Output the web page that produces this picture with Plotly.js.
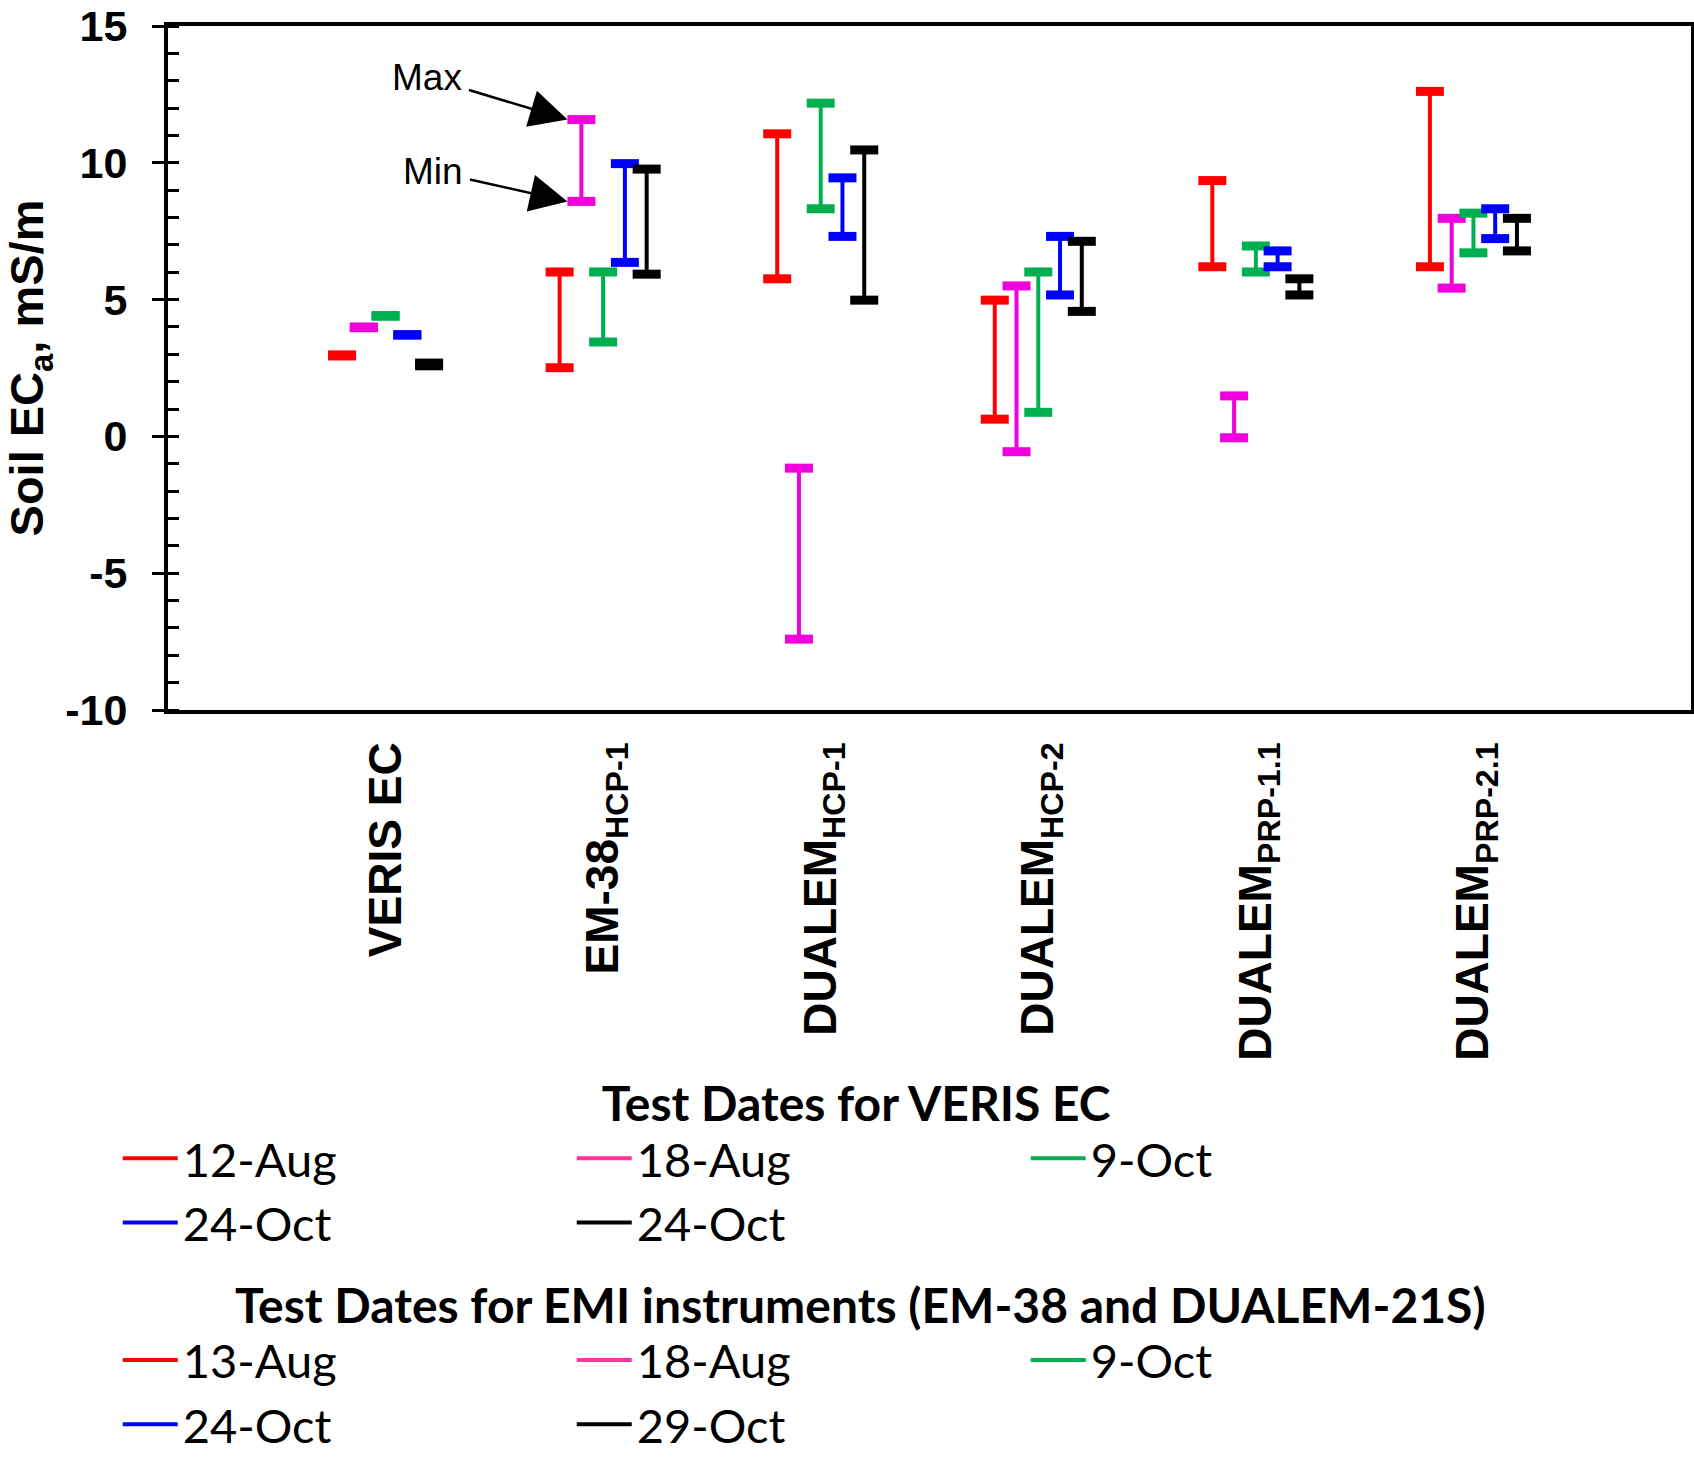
<!DOCTYPE html>
<html>
<head>
<meta charset="utf-8">
<script src="https://cdn.plot.ly/plotly-3.0.1.min.js"></script>
<style>
  html, body { margin: 0; padding: 0; background: #fff; }
  #chart { width: 1694px; height: 1457px; }
</style>
</head>
<body>
<div id="chart"></div>
<script>
// ---------------- data ----------------
const categories = [
  'VERIS EC',
  'EM-38<sub>HCP-1</sub>',
  'DUALEM<sub>HCP-1</sub>',
  'DUALEM<sub>HCP-2</sub>',
  'DUALEM<sub>PRP-1.1</sub>',
  'DUALEM<sub>PRP-2.1</sub>'
];
const verisDates = ['12-Aug', '18-Aug', '9-Oct', '24-Oct', '24-Oct'];
const emiDates   = ['13-Aug', '18-Aug', '9-Oct', '24-Oct', '29-Oct'];
const yTickVals  = [-10, -5, 0, 5, 10, 15];
const yTickText  = ['-10', '-5', '0', '5', '10', '15'];

// min / max per series, one value per category (VERIS EC first)
const redMin     = [2.94, 2.51, 5.76, 0.63, 6.20, 6.20];
const redMax     = [2.98, 6.01, 11.06, 4.98, 9.35, 12.61];
const magentaMin = [3.97, 8.59, -7.41, -0.56, -0.05, 5.42];
const magentaMax = [4.00, 11.58, -1.16, 5.50, 1.48, 7.97];
const greenMin   = [4.39, 3.45, 8.32, 0.88, 6.01, 6.71];
const greenMax   = [4.42, 6.01, 12.18, 6.01, 6.96, 8.16];
const blueMin    = [3.70, 6.36, 7.31, 5.17, 6.20, 7.23];
const blueMax    = [3.72, 9.97, 9.45, 7.31, 6.78, 8.32];
const blackMin   = [2.58, 5.93, 4.98, 4.57, 5.17, 6.78];
const blackMax   = [2.68, 9.77, 10.47, 7.13, 5.76, 7.97];

// ---------------- styling ----------------
const seriesMin = [redMin, magentaMin, greenMin, blueMin, blackMin];
const seriesMax = [redMax, magentaMax, greenMax, blueMax, blackMax];
const markColors   = ['#FF0000', '#F000DC', '#00B050', '#0000FF', '#000000'];
const legendColors = ['#FF0000', '#FF3399', '#00B050', '#0000FF', '#000000'];
const offsets = [-0.2, -0.1, 0, 0.1, 0.2];

const AX_FONT = 'Arial, "Liberation Sans", sans-serif';
const LEG_FONT = 'Lato, "Open Sans", sans-serif';
const PAD = '\u00A0'.repeat(10);

const traces = [];
function addGroup(catIdx, s, dateName, legendId) {
  const xs = [], ys = [], cx = [], cy = [];
  catIdx.forEach(i => {
    const x = i + 1 + offsets[s];
    xs.push(x, x, null);
    ys.push(seriesMin[s][i], seriesMax[s][i], null);
    cx.push(x, x);
    cy.push(seriesMin[s][i], seriesMax[s][i]);
  });
  traces.push({
    type: 'scatter', mode: 'lines', x: xs, y: ys,
    line: { color: markColors[s], width: 4 },
    showlegend: false, hoverinfo: 'skip'
  });
  traces.push({
    type: 'scatter', mode: 'markers', x: cx, y: cy,
    marker: { symbol: 'line-ew', size: 20, color: markColors[s],
              line: { color: markColors[s], width: 9 } },
    showlegend: false
  });
  traces.push({
    type: 'scatter', mode: 'lines', x: [null], y: [null],
    name: dateName, legend: legendId,
    line: { color: legendColors[s], width: 4 },
    showlegend: true
  });
}
for (let s = 0; s < 5; s++) addGroup([0], s, verisDates[s], 'legend');
for (let s = 0; s < 5; s++) addGroup([1, 2, 3, 4, 5], s, emiDates[s], 'legend2');

const legendCommon = {
  orientation: 'h', xanchor: 'left', yanchor: 'top',
  x: -0.033,
  entrywidth: 384, entrywidthmode: 'pixels',
  bgcolor: 'rgba(0,0,0,0)', borderwidth: 0,
  font: { family: LEG_FONT, size: 47, color: '#000' },
  itemwidth: 55, tracegroupgap: 0
};

const layout = {
  width: 1694, height: 1457,
  margin: { l: 168, r: 3, t: 26, b: 747, autoexpand: false },
  paper_bgcolor: '#fff', plot_bgcolor: '#fff',
  showlegend: true,
  xaxis: {
    range: [0, 7], tickmode: 'array',
    tickvals: [1, 2, 3, 4, 5, 6], ticktext: categories,
    tickangle: -90, ticks: '', showgrid: false, zeroline: false,
    showline: true, linecolor: '#000', linewidth: 4, mirror: true,
    tickfont: { family: AX_FONT, size: 46, color: '#000', weight: 'bold' },
    ticklabelstandoff: 10
  },
  yaxis: {
    range: [-10, 15.0001], tickmode: 'array', tickvals: yTickVals, ticktext: yTickText,
    ticklabeloverflow: 'allow',
    ticks: 'outside', ticklen: 12, tickwidth: 3, tickcolor: '#000',
    minor: { dtick: 1, tick0: 0, ticks: 'inside', ticklen: 11, tickwidth: 3, tickcolor: '#000' },
    showgrid: false, zeroline: false,
    showline: true, linecolor: '#000', linewidth: 4, mirror: true,
    tickfont: { family: AX_FONT, size: 43, color: '#000', weight: 'bold' },
    ticklabelstandoff: 16,
    title: { text: 'Soil EC<sub>a</sub>, mS/m', standoff: 40,
             font: { family: AX_FONT, size: 47, color: '#000', weight: 'bold' } }
  },
  legend: Object.assign({}, legendCommon, {
    y: -0.510,
    title: { text: PAD + 'Test Dates for VERIS EC', side: 'top center',
             font: { family: LEG_FONT, size: 48, color: '#000', weight: 'bold' } }
  }),
  legend2: Object.assign({}, legendCommon, {
    y: -0.805,
    title: { text: PAD + 'Test Dates for EMI instruments (EM-38 and DUALEM-21S)', side: 'top center',
             font: { family: LEG_FONT, size: 48, color: '#000', weight: 'bold' } }
  }),
  annotations: [
    { x: 1.836, y: 11.58, xref: 'x', yref: 'y', text: 'Max', showarrow: true,
      ax: -140, ay: -42, arrowhead: 2, arrowsize: 3.0, arrowwidth: 2.5, arrowcolor: '#000',
      standoff: 0, borderpad: 6, font: { family: AX_FONT, size: 37, color: '#000' } },
    { x: 1.836, y: 8.59, xref: 'x', yref: 'y', text: 'Min', showarrow: true,
      ax: -134, ay: -30, arrowhead: 2, arrowsize: 3.0, arrowwidth: 2.5, arrowcolor: '#000',
      standoff: 0, borderpad: 6, font: { family: AX_FONT, size: 37, color: '#000' } }
  ]
};

Plotly.newPlot('chart', traces, layout, { staticPlot: true, displayModeBar: false });
</script>
</body>
</html>
